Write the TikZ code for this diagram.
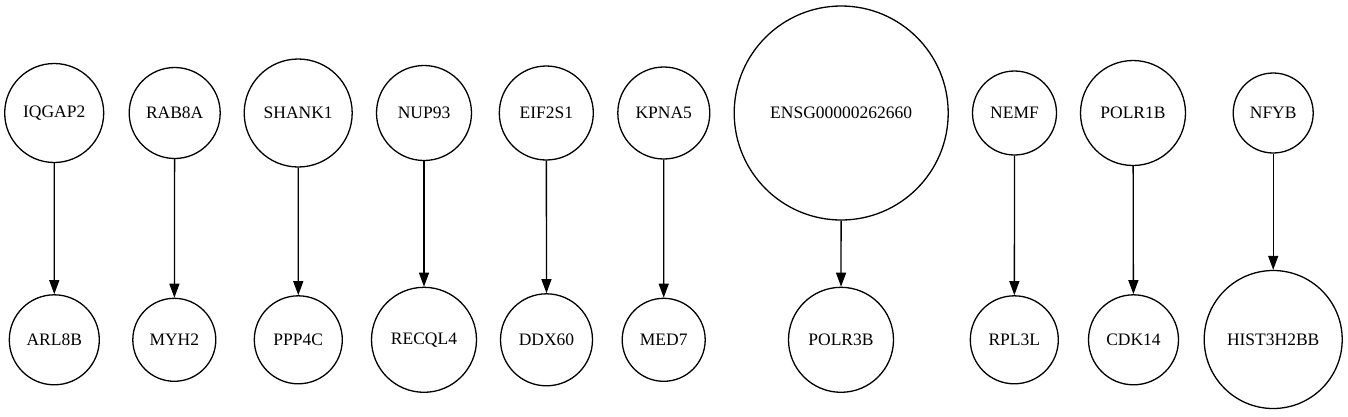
\documentclass[tikz,border=0pt]{standalone}
\usepackage{fontspec}
\setmainfont{Liberation Serif}
\usetikzlibrary{arrows.meta}
\tikzset{
  gnode/.style={draw=black,circle,line width=1.3pt,inner sep=0pt,font=\fontsize{17.5}{20}\selectfont},
  gedge/.style={draw=black,line width=1.3pt,-{Triangle[length=14pt,width=10pt]}}
}
\begin{document}
\begin{tikzpicture}[x=1pt,y=-1pt]
\useasboundingbox (0,0) rectangle (1348,416);
% top row
\node[gnode,minimum size=99pt] (iqgap2) at (54.2,113) {IQGAP2};
\node[gnode,minimum size=91pt] (rab8a) at (174.7,113) {RAB8A};
\node[gnode,minimum size=108pt] (shank1) at (298.2,113) {SHANK1};
\node[gnode,minimum size=95pt] (nup93) at (424,113) {NUP93};
\node[gnode,minimum size=94pt] (eif2s1) at (546.3,113) {EIF2S1};
\node[gnode,minimum size=92pt] (kpna5) at (663.8,113) {KPNA5};
\node[gnode,minimum size=214pt] (ensg) at (841.2,113) {ENSG00000262660};
\node[gnode,minimum size=84pt] (nemf) at (1014.5,113) {NEMF};
\node[gnode,minimum size=105pt] (polr1b) at (1133,113) {POLR1B};
\node[gnode,minimum size=80pt] (nfyb) at (1273.2,113) {NFYB};
% bottom row
\node[gnode,minimum size=90pt] (arl8b) at (54.3,339.8) {ARL8B};
\node[gnode,minimum size=83pt] (myh2) at (174.3,339.8) {MYH2};
\node[gnode,minimum size=88pt] (ppp4c) at (298.3,339.8) {PPP4C};
\node[gnode,minimum size=105pt] (recql4) at (424,339.8) {RECQL4};
\node[gnode,minimum size=92pt] (ddx60) at (546.5,339.8) {DDX60};
\node[gnode,minimum size=83pt] (med7) at (663.7,339.8) {MED7};
\node[gnode,minimum size=105pt] (polr3b) at (841,339.8) {POLR3B};
\node[gnode,minimum size=88pt] (rpl3l) at (1014.3,339.8) {RPL3L};
\node[gnode,minimum size=90pt] (cdk14) at (1133.5,339.8) {CDK14};
\node[gnode,minimum size=138pt] (hist) at (1273.2,339.5) {HIST3H2BB};
% edges
\draw[gedge] (iqgap2) -- (arl8b);
\draw[gedge] (rab8a) -- (myh2);
\draw[gedge] (shank1) -- (ppp4c);
\draw[gedge] (nup93) -- (recql4);
\draw[gedge] (eif2s1) -- (ddx60);
\draw[gedge] (kpna5) -- (med7);
\draw[gedge] (ensg) -- (polr3b);
\draw[gedge] (nemf) -- (rpl3l);
\draw[gedge] (polr1b) -- (cdk14);
\draw[gedge] (nfyb) -- (hist);
\end{tikzpicture}
\end{document}
